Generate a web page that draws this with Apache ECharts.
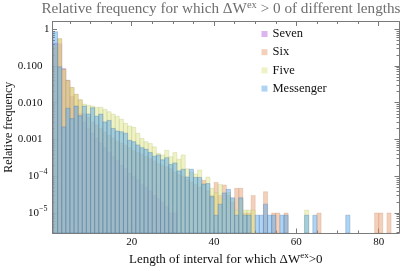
<!DOCTYPE html>
<html>
<head>
<meta charset="utf-8">
<script src="https://cdn.jsdelivr.net/npm/echarts@6.0.0/dist/echarts.min.js"></script>
<style>
html,body{margin:0;padding:0;background:#ffffff;}
#chart{width:409px;height:271px;}
</style>
</head>
<body>
<div id="chart"></div>
<script>
// ---- data (relative frequency per interval length; null = no bar) ----
var lengths = [1,2,3,4,5,6,7,8,9,10,11,12,13,14,15,16,17,18,19,20,21,22,23,24,25,26,27,28,29,30,
  31,32,33,34,35,36,37,38,39,40,41,42,43,44,45,46,47,48,49,50,51,52,53,54,55,56,57,58,59,60,
  61,62,63,64,65,66,67,68,69,70,71,72,73,74,75,76,77,78,79,80,81,82,83];

var seven = [
  0.42, 0.40, 0.085, 0.041, 0.015, 0.008, 0.005, 0.003, 0.002, 0.0015,
  0.0011, 0.0008, 0.0006, 0.00045, 0.00035, 0.00027, 0.0002, 0.00016, 0.00012, 0.0001,
  0.00008, 0.00006, 0.00005, 0.00004, 0.00003, 0.000025, 0.00002, 0.000015, 0.00001, 0.00001,
  null, null, null, null, null, null, null, null, null, null,
  null, null, null, null, null, null, null, null, null, null,
  null, null, null, null, null, null, null, null, null, null,
  null, null, null, null, null, null, null, null, null, null,
  null, null, null, null, null, null, null, null, null, null,
  null, null, null];

var six = [
  0.33, 0.55, 0.08, 0.04, 0.026, 0.017, 0.012, 0.005, 0.004, 0.003,
  0.0025, 0.002, 0.0016, 0.0013, 0.0011, 0.0009, 0.0008, 0.0007, 0.0006, 0.0005,
  0.00045, 0.0004, 0.00035, 0.0003, 0.00026, 0.00022, 0.0002, 0.00018, 0.00016, 0.00013,
  0.00011, 0.0001, 0.00008, 0.00007, 0.00006, 0.00005, 0.000078, 0.00004, 0.00003, 0.000068,
  0.00003, 0.000058, 0.00003, 0.00002, 0.000047, 0.000047, 0.00001, 0.00001, 0.00003, null,
  null, 0.000038, null, 0.00001, 0.00001, null, 0.00001, null, null, null,
  null, null, null, null, 0.00001, null, null, null, null, null,
  null, null, null, null, null, null, null, null, 0.00001, 0.00001,
  null, 0.00001, null];

var five = [
  0.37, 0.55, 0.08, 0.04, 0.026, 0.017, 0.012, 0.0092, 0.0085, 0.0081,
  0.0075, 0.0075, 0.0066, 0.0057, 0.0049, 0.0043, 0.00355, 0.00275, 0.00234, 0.00214,
  0.00148, 0.00107, 0.00087, 0.00078, 0.00063, 0.00042, 0.00038, 0.00051, 0.00034, 0.00044,
  0.00029, 0.00038, 0.00016, 0.00013, 0.000115, 0.000148, 0.000063, 0.000095, 0.000047, 0.000036,
  0.00006, 0.000024, 0.000036, 0.000024, 0.000012, 0.000024, 0.000012, 0.000012, 0.000012, null,
  null, null, null, null, null, null, null, null, null, null,
  null, 0.000012, null, null, null, null, null, null, null, null,
  null, null, null, null, null, null, null, null, null, null,
  null, null, null];

var messenger = [
  0.85, 0.095, 0.0022, 0.0071, 0.0037, 0.0081, 0.0044, 0.0081, 0.0049, 0.0073,
  0.0043, 0.0049, 0.0030, 0.0033, 0.0020, 0.0017, 0.00162, 0.00148, 0.00095, 0.00087,
  0.00071, 0.00060, 0.00054, 0.00044, 0.00035, 0.00038, 0.00028, 0.00032, 0.00021, 0.00023,
  0.00014, 0.000155, 0.000095, 0.000155, 0.000093, 0.000093, 0.00006, 0.000063, 0.000028, 0.0000087,
  0.0000174, 0.000035, 0.000044, 0.000026, 0.0000087, 0.000026, 0.0000087, 0.0000087, null, 0.0000087,
  0.0000087, 0.0000174, 0.0000087, 0.0000087, null, 0.0000087, 0.0000087, null, null, null,
  null, 0.0000087, null, 0.0000087, null, null, null, null, null, null,
  null, 0.0000087, null, null, null, null, null, null, null, null,
  null, null, null];

var seriesNames = ['Seven', 'Six', 'Five', 'Messenger'];
var xTickValues = [20, 40, 60, 80];
var xTickLabels = ['20', '40', '60', '80'];
var yTickValues = [0.00001, 0.0001, 0.001, 0.01, 0.1, 1];
var yTickLabels = ['10^-5', '10^-4', '0.001', '0.010', '0.100', '1'];
var titleText = 'Relative frequency for which \u0394W{sup|ex} > 0 of different lengths';
var xAxisTitle = 'Length of interval for which \u0394W{sup|ex}>0';
var yAxisTitle = 'Relative frequency';

// ---- styling / layout ----
var FONT = '"Liberation Serif", "Times New Roman", serif';
var X_MIN = 0.76, X_MAX = 84.93;
var LMIN = -5.544, LMAX = 0.21;
var AX = '#7a7a7a';
var fills = ['rgba(185,105,225,0.5)', 'rgba(229,150,100,0.45)', 'rgba(221,229,140,0.5)', 'rgba(100,172,235,0.52)'];
var strokes = ['rgba(140,80,180,0.35)', 'rgba(190,120,80,0.35)', 'rgba(170,180,90,0.35)', 'rgba(70,120,170,0.55)'];

var xMinor = [];
for (var t = 5; t < X_MAX; t += 5) if (xTickValues.indexOf(t) < 0) xMinor.push(t);
var yMajor = yTickValues.map(function (v) { return Math.log10(v); });
var yMinor = [];
for (var e = -6; e <= 0; e++) for (var m = 2; m <= 9; m++) {
  var l = Math.log10(m) + e;
  if (l > LMIN && l < LMAX) yMinor.push(l);
}

function xFmt(v) {
  for (var i = 0; i < xTickValues.length; i++) if (Math.abs(xTickValues[i] - v) < 1e-6) return xTickLabels[i];
  return '';
}
function yFmt(v) {
  for (var i = 0; i < yTickValues.length; i++) {
    if (Math.abs(Math.log10(yTickValues[i]) - v) < 1e-6) {
      var s = yTickLabels[i];
      if (s.indexOf('^') >= 0) {
        var p = s.split('^');
        return '{b|' + p[0] + '}{sup|' + p[1].replace('-', '\u2212') + '}';
      }
      if (s.indexOf('.') >= 0) return '{dec|' + s + '}';
      return '{one|' + s + '}';
    }
  }
  return '';
}

function xAxisCfg(pos, ticks, len, labels, line, extra) {
  var a = {
    type: 'value', min: X_MIN, max: X_MAX, position: pos,
    axisLine: { show: line, onZero: false, lineStyle: { color: AX, width: 1 } },
    axisTick: { show: true, inside: true, length: len, customValues: ticks, lineStyle: { color: AX, width: 1 } },
    axisLabel: { show: labels, customValues: ticks, margin: 4, color: '#111', fontFamily: FONT, fontSize: 11, formatter: xFmt },
    splitLine: { show: false }
  };
  for (var k in (extra || {})) a[k] = extra[k];
  return a;
}
function yAxisCfg(pos, ticks, len, labels, line, extra) {
  var a = {
    type: 'value', min: LMIN, max: LMAX, position: pos,
    axisLine: { show: line, onZero: false, lineStyle: { color: AX, width: 1 } },
    axisTick: { show: true, inside: true, length: len, customValues: ticks, lineStyle: { color: AX, width: 1 } },
    axisLabel: {
      show: labels, customValues: ticks, margin: 3, color: '#111', fontFamily: FONT, fontSize: 11, formatter: yFmt,
      rich: {
        b: { fontFamily: FONT, fontSize: 11, lineHeight: 16, color: '#111' },
        one: { fontFamily: FONT, fontSize: 11, lineHeight: 16, color: '#111', padding: [0, 0, 0, 0] },
        dec: { fontFamily: FONT, fontSize: 11, lineHeight: 16, color: '#111', padding: [0, 7, 0, 0] },
        sup: { fontFamily: FONT, fontSize: 8, lineHeight: 10, verticalAlign: 'top', color: '#111', padding: [0, 2, 0, 0] }
      }
    },
    splitLine: { show: false }
  };
  for (var k in (extra || {})) a[k] = extra[k];
  return a;
}

function makeSeries(idx, values) {
  var data = [];
  for (var i = 0; i < lengths.length; i++) {
    if (values[i] != null) data.push([lengths[i], Math.log10(values[i])]);
  }
  var fill = fills[idx], stroke = strokes[idx];
  return {
    type: 'custom', name: seriesNames[idx], data: data, clip: true,
    xAxisIndex: 0, yAxisIndex: 0,
    itemStyle: { color: fill },
    encode: { x: 0, y: 1 },
    renderItem: function (params, api) {
      var x = api.value(0), v = api.value(1);
      var a = api.coord([x, v]);
      var b = api.coord([x + 1, LMIN]);
      return {
        type: 'rect',
        shape: { x: a[0], y: a[1], width: b[0] - a[0], height: b[1] - a[1] },
        style: { fill: fill, stroke: stroke, lineWidth: 0.6 }
      };
    }
  };
}

var chart = echarts.init(document.getElementById('chart'), null, { renderer: 'canvas' });
chart.setOption({
  animation: false,
  backgroundColor: '#ffffff',
  grid: { left: 52.5, right: 10, top: 21.5, bottom: 38, outerBoundsMode: 'none' },
  graphic: [{
    type: 'text', x: 221, y: 9, silent: true,
    style: {
      text: titleText, fill: '#6e6e6e', fontFamily: FONT, fontSize: 15.2, lineHeight: 18,
      align: 'center', verticalAlign: 'middle',
      rich: { sup: { fontFamily: FONT, fontSize: 10.5, lineHeight: 10, verticalAlign: 'top', fill: '#6e6e6e' } }
    }
  }],
  legend: {
    orient: 'vertical', left: 261.5, top: 27, padding: 0,
    itemWidth: 6, itemHeight: 6, itemGap: 4.2, icon: 'rect',
    textStyle: { fontFamily: FONT, fontSize: 12.5, color: '#111', lineHeight: 14 },
    data: seriesNames
  },
  xAxis: [
    xAxisCfg('bottom', xTickValues, 4.5, true, true, {
      name: xAxisTitle, nameLocation: 'middle', nameGap: 18, nameMoveOverlap: false,
      nameTextStyle: {
        fontFamily: FONT, fontSize: 13, color: '#111', lineHeight: 18,
        rich: { sup: { fontFamily: FONT, fontSize: 9, lineHeight: 10, verticalAlign: 'top', color: '#111' } }
      }
    }),
    xAxisCfg('bottom', xMinor, 2.5, false, false),
    xAxisCfg('top', xTickValues, 4.5, false, true),
    xAxisCfg('top', xMinor, 2.5, false, false)
  ],
  yAxis: [
    yAxisCfg('left', yMajor, 4.5, true, true, {
      name: yAxisTitle, nameLocation: 'middle', nameGap: 38, nameMoveOverlap: false,
      nameTextStyle: { fontFamily: FONT, fontSize: 12, color: '#111' }
    }),
    yAxisCfg('left', yMinor, 2.5, false, false),
    yAxisCfg('right', yMajor, 4.5, false, true),
    yAxisCfg('right', yMinor, 2.5, false, false)
  ],
  series: [makeSeries(0, seven), makeSeries(1, six), makeSeries(2, five), makeSeries(3, messenger)]
});
</script>
</body>
</html>
